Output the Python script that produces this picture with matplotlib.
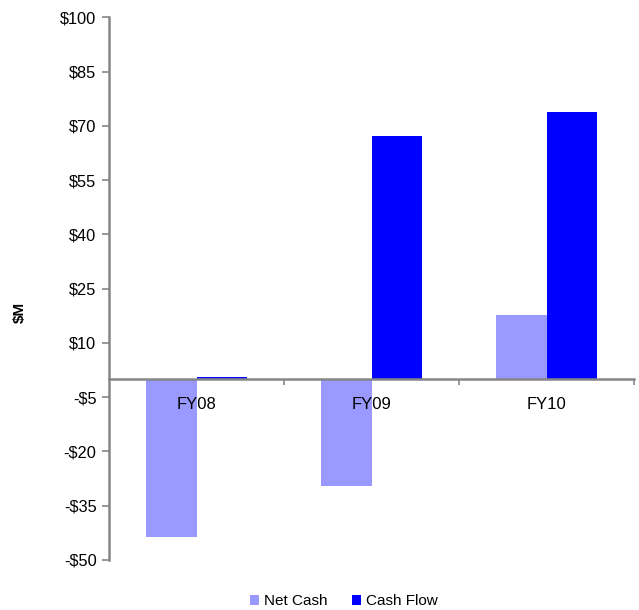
import numpy as np
import matplotlib.pyplot as plt
from matplotlib.ticker import FixedLocator, FuncFormatter

plt.rcParams['font.family'] = ['Liberation Sans', 'DejaVu Sans']

years = ['FY08', 'FY09', 'FY10']
net_cash = [-43.7, -29.6, 17.8]
cash_flow = [0.7, 67.3, 73.7]
y_ticks = [-50, -35, -20, -5, 10, 25, 40, 55, 70, 85, 100]

grey = '#868686'
x = np.arange(len(years))
width = 0.29

fig = plt.figure(figsize=(6.39, 6.10), dpi=100)
ax = fig.add_axes([0.1706, 0.082, 0.9922 - 0.1706, 0.9716 - 0.082])

ax.bar(x - width / 2, net_cash, width, color='#9999FF', label='Net Cash')
ax.bar(x + width / 2, cash_flow, width, color='#0000FF', label='Cash Flow')

ax.set_xlim(-0.5, 2.5)
ax.set_ylim(-50, 100)

# y axis: dollar ticks on the left
ax.set_yticks(y_ticks)
ax.yaxis.set_major_formatter(FuncFormatter(
    lambda v, p: f'-${abs(v):g}' if v < 0 else f'${v:g}'))
ax.tick_params(axis='y', direction='out', length=5, width=1.2, color=grey,
               labelsize=11.8, pad=4)
ax.set_ylabel('$M', fontsize=11, fontweight='bold')
ax.yaxis.set_label_coords(-0.157, 0.457)

# x axis sits on zero, with ticks between the categories
ax.spines['bottom'].set_position(('data', 0))
ax.spines['bottom'].set_color(grey)
ax.spines['bottom'].set_linewidth(1.8)
ax.spines['left'].set_color(grey)
ax.spines['left'].set_linewidth(1.8)
ax.spines['top'].set_visible(False)
ax.spines['right'].set_visible(False)

ax.xaxis.set_major_locator(FixedLocator([0.5, 1.5, 2.5]))
ax.xaxis.set_minor_locator(FixedLocator(x))
ax.set_xticklabels([], minor=False)
ax.set_xticklabels(years, minor=True)
ax.tick_params(axis='x', which='major', direction='out', length=4,
               width=1.2, color=grey)
ax.tick_params(axis='x', which='minor', length=0, labelsize=12, pad=13)

fig.legend(loc='center', bbox_to_anchor=(0.538, 0.014), ncol=2, frameon=False,
           fontsize=11, handlelength=0.6, handleheight=0.6,
           handletextpad=0.3, columnspacing=1.6)

fig.savefig('out.png', dpi=100)
